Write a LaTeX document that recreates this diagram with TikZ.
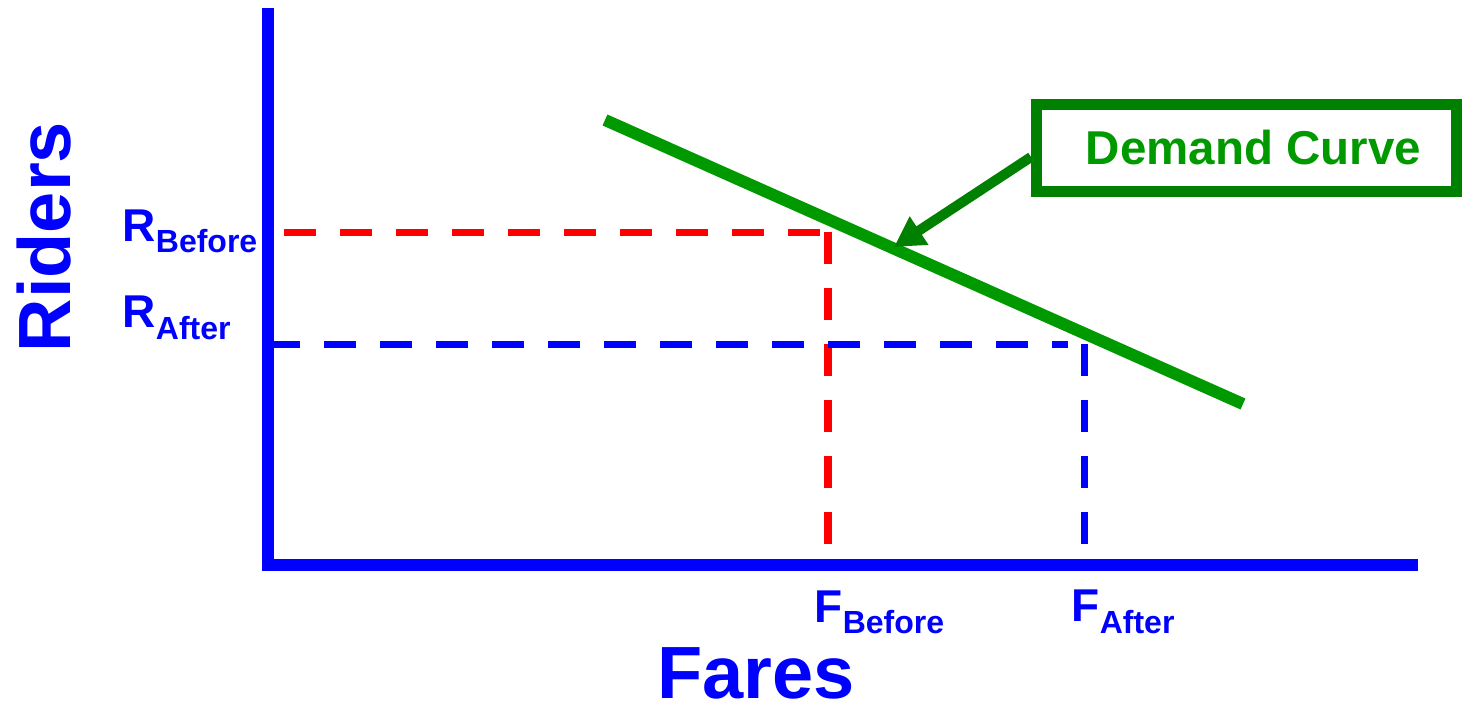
\documentclass[tikz,border=0pt]{standalone}
\usepackage{fontspec}
\setmainfont{Liberation Sans}
\usetikzlibrary{arrows.meta}
\definecolor{axblue}{RGB}{0,0,255}
\definecolor{dashred}{RGB}{255,0,0}
\definecolor{curvegreen}{RGB}{0,153,0}
\definecolor{boxgreen}{RGB}{0,128,0}
\tikzset{
  axisline/.style={draw=axblue, line width=11.5pt},
  guide/.style={line width=7.5pt, dash pattern=on 32pt off 24pt},
  lbl/.style={inner sep=0pt, anchor=base west, text=axblue, font=\bfseries},
  dcbox/.style={draw=boxgreen, line width=11pt, inner sep=0pt, minimum width=420pt, minimum height=87pt, text=curvegreen, font=\bfseries\fontsize{47.5}{47.5}\selectfont},
}
\newcommand{\mainsz}{\fontsize{46}{46}\selectfont}
\newcommand{\subsz}{\fontsize{32}{32}\selectfont}
\begin{document}
\begin{tikzpicture}[x=1pt,y=-1pt]
\useasboundingbox (0,0) rectangle (1468,703);
% axes
\coordinate (ytop) at (268,8);
\coordinate (ybot) at (268,571);
\coordinate (xleft) at (262.5,565);
\coordinate (xright) at (1418,565);
\draw[axisline] (ytop) -- (ybot);
\draw[axisline] (xleft) -- (xright);
% guides
\coordinate (rbs) at (284,232.5);
\coordinate (rbe) at (820,232.5);
\coordinate (fbs) at (828,232);
\coordinate (fbe) at (828,544);
\coordinate (ras) at (268,344.5);
\coordinate (rae) at (1068,344.5);
\coordinate (fas) at (1084.5,344);
\coordinate (fae) at (1084.5,544);
\draw[guide, dashred] (rbs) -- (rbe);
\draw[guide, dashred] (fbs) -- (fbe);
\draw[guide, axblue] (ras) -- (rae);
\draw[guide, axblue] (fas) -- (fae);
% demand curve
\coordinate (dcs) at (605,120);
\coordinate (dce) at (1243,404);
\draw[curvegreen, line width=12pt] (dcs) -- (dce);
\coordinate (hit) at (894,247);
% box
\node[dcbox] (dc) at (1246.5,148) {\hspace*{14pt}Demand Curve};
\draw[boxgreen, line width=10pt, -{Triangle[length=30pt,width=32pt]}] ([yshift=-9pt]dc.west) -- (hit);
% labels
\node[lbl] (rb) at (122.5,242) {\mainsz R\raisebox{-11pt}{\subsz Before}};
\node[lbl] (ra) at (122.5,328) {\mainsz R\raisebox{-12pt}{\subsz After}};
\node[lbl] (fb) at (814.5,622) {\mainsz F\raisebox{-11pt}{\subsz Before}};
\node[lbl] (fa) at (1071.5,621) {\mainsz F\raisebox{-12pt}{\subsz After}};
\node[lbl, font=\bfseries\fontsize{74}{74}\selectfont, rotate=90] (riders) at (70,352.5) {Riders};
\node[lbl, font=\bfseries\fontsize{74}{74}\selectfont] (fares) at (657,698) {Fares};
\end{tikzpicture}
\end{document}
